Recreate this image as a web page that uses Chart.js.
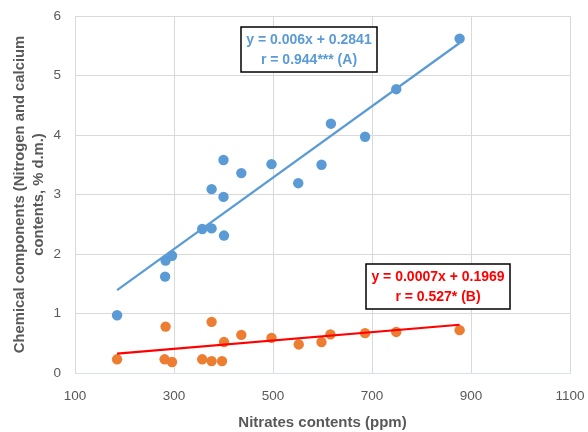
<!DOCTYPE html>
<html>
<head>
<meta charset="utf-8">
<script src="https://cdn.jsdelivr.net/npm/chart.js@4.4.1/dist/chart.umd.min.js"></script>
<style>
  html, body { margin: 0; padding: 0; background: #fff; }
  #wrap { width: 588px; height: 432px; position: relative; }
</style>
</head>
<body>
<div id="wrap"><canvas id="chart" width="588" height="432"></canvas></div>
<script>
// data
const nitrogenX = [185, 282, 283, 296, 357, 376, 376, 401, 400, 400, 436, 497, 551, 598, 617, 686, 749, 877];
const nitrogenY = [0.97, 1.62, 1.89, 1.97, 2.42, 2.43, 3.09, 2.31, 2.96, 3.58, 3.36, 3.51, 3.19, 3.50, 4.19, 3.97, 4.77, 5.62];
const calciumX = [185, 283, 281, 296, 357, 376, 376, 397, 401, 436, 497, 552, 598, 616, 686, 749, 877];
const calciumY = [0.23, 0.78, 0.23, 0.185, 0.23, 0.86, 0.20, 0.20, 0.52, 0.64, 0.59, 0.48, 0.52, 0.65, 0.67, 0.69, 0.72];

// trend lines (from the printed equations)
const trendA = [0.006, 0.2841];
const trendB = [0.0007, 0.1969];
const trendRange = [185, 877];

const labelA = ['y = 0.006x + 0.2841', 'r = 0.944*** (A)'];
const labelB = ['y = 0.0007x + 0.1969', 'r = 0.527* (B)'];

const xTicks = [100, 300, 500, 700, 900, 1100];
const yTicks = [0, 1, 2, 3, 4, 5, 6];

const BLUE = '#5B9BD5';
const ORANGE = '#ED7D31';
const RED = '#FF0000';
const GREY = '#595959';
const FONT = "'Liberation Sans', Arial, sans-serif";

const toPoints = (xs, ys) => xs.map((x, i) => ({ x: x, y: ys[i] }));
const trendPoints = (c) => trendRange.map(x => ({ x: x, y: c[0] * x + c[1] }));

// boxes with the regression text
const boxPlugin = {
    id: 'eqBoxes',
    afterDatasetsDraw(chart) {
        const ctx = chart.ctx;
        const boxes = [
            { lines: labelA, color: BLUE, cx: 309, top: 27, w: 136, h: 45 },
            { lines: labelB, color: RED, cx: 438, top: 264, w: 144, h: 45 }
        ];
        boxes.forEach(b => {
            ctx.save();
            ctx.fillStyle = '#fff';
            ctx.fillRect(b.cx - b.w / 2, b.top, b.w, b.h);
            ctx.strokeStyle = '#000';
            ctx.lineWidth = 1.5;
            ctx.strokeRect(b.cx - b.w / 2, b.top, b.w, b.h);
            ctx.fillStyle = b.color;
            ctx.font = 'bold 14px ' + FONT;
            ctx.textAlign = 'center';
            ctx.textBaseline = 'middle';
            ctx.fillText(b.lines[0], b.cx, b.top + 13.5);
            ctx.fillText(b.lines[1], b.cx, b.top + 33.5);
            ctx.restore();
        });
    }
};

new Chart(document.getElementById('chart'), {
    type: 'scatter',
    data: {
        datasets: [
            {
                label: 'Trend A',
                type: 'line',
                data: trendPoints(trendA),
                borderColor: BLUE,
                borderWidth: 2.2,
                pointRadius: 0,
                fill: false,
                order: 1
            },
            {
                label: 'Trend B',
                type: 'line',
                data: trendPoints(trendB),
                borderColor: RED,
                borderWidth: 2.2,
                pointRadius: 0,
                fill: false,
                order: 1
            },
            {
                label: 'Nitrogen',
                data: toPoints(nitrogenX, nitrogenY),
                backgroundColor: BLUE,
                borderWidth: 0,
                pointRadius: 5.2,
                order: 2
            },
            {
                label: 'Calcium',
                data: toPoints(calciumX, calciumY),
                backgroundColor: ORANGE,
                borderWidth: 0,
                pointRadius: 5.2,
                order: 2
            }
        ]
    },
    options: {
        responsive: false,
        animation: false,
        layout: { padding: { top: 16, right: 18, left: 0, bottom: 0 } },
        plugins: {
            legend: { display: false },
            tooltip: { enabled: false }
        },
        scales: {
            x: {
                type: 'linear',
                min: 100,
                max: 1100,
                afterBuildTicks: (s) => { s.ticks = xTicks.map(v => ({ value: v })); },
                afterFit: (s) => { s.height = 59; s.paddingLeft = 0; s.paddingRight = 0; },
                grid: { color: '#D9D9D9', drawTicks: false },
                border: { color: '#D9E1F0' },
                ticks: {
                    color: GREY,
                    font: { family: FONT, size: 13.5 },
                    padding: 15,
                    callback: (v) => String(v)
                },
                title: {
                    display: true,
                    text: 'Nitrates contents (ppm)',
                    color: GREY,
                    font: { family: FONT, size: 15, weight: 'bold' },
                    padding: { top: 4, bottom: 0 }
                }
            },
            y: {
                min: 0,
                max: 6,
                afterBuildTicks: (s) => { s.ticks = yTicks.map(v => ({ value: v })); },
                afterFit: (s) => { s.width = 75; s.paddingTop = 0; s.paddingBottom = 0; },
                grid: { color: '#D9D9D9', drawTicks: false },
                border: { color: '#D9D9D9' },
                ticks: { color: GREY, font: { family: FONT, size: 13.5 }, padding: 14 },
                title: {
                    display: true,
                    text: ['Chemical components (Nitrogen and calcium', 'contents, % d.m.)'],
                    color: GREY,
                    font: { family: FONT, size: 14.8, weight: 'bold', lineHeight: 1.3 },
                    padding: { top: 10, bottom: 0 }
                }
            }
        }
    },
    plugins: [boxPlugin]
});
</script>
</body>
</html>
